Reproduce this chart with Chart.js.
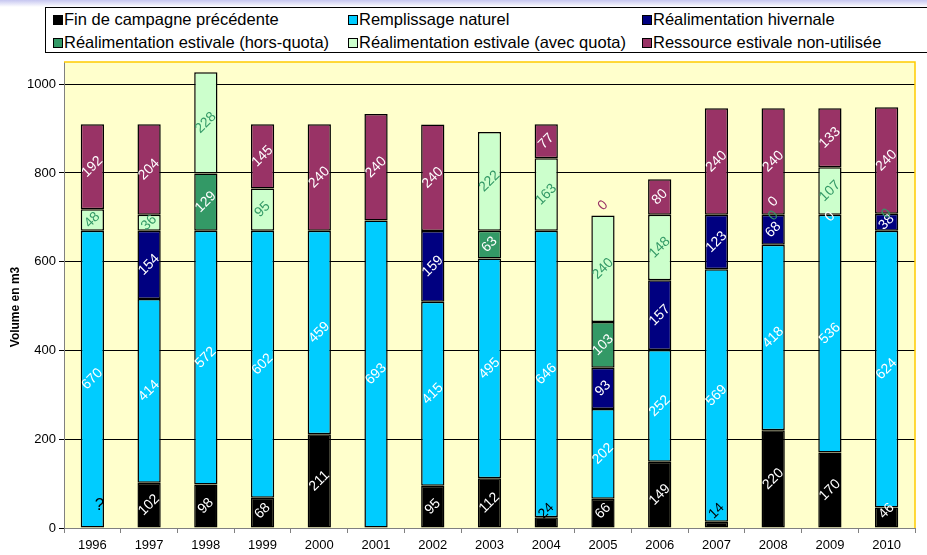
<!DOCTYPE html>
<html>
<head>
<meta charset="utf-8">
<script src="https://cdn.jsdelivr.net/npm/chart.js@4.4.1/dist/chart.umd.min.js"></script>
<style>
  html, body { margin:0; padding:0; background:#fff; }
  #wrap { position:relative; width:927px; height:555px; overflow:hidden; font-family:"Liberation Sans", Arial, sans-serif; }
  #stripe { position:absolute; left:0; top:0; width:927px; height:7px; background:linear-gradient(#c6c6f0, #ffffff); }
  #chart { position:absolute; left:0; top:0; }
  #legend { position:absolute; left:45px; top:7px; width:900px; height:44px; border:1px solid #000; background:#fff; }
  .li { position:absolute; font-size:16.5px; color:#000; white-space:nowrap; line-height:18px; }
  .li i { display:inline-block; width:8px; height:8px; border:1px solid #000; margin-right:1px; vertical-align:0px; }
</style>
</head>
<body>
<div id="wrap">
  <div id="stripe"></div>
  <canvas id="chart" width="927" height="555"></canvas>
  <div id="legend"></div>
</div>
<script>
const years = ['1996','1997','1998','1999','2000','2001','2002','2003','2004','2005','2006','2007','2008','2009','2010'];
const finCampagne = [0,102,98,68,211,0,95,112,24,66,149,14,220,170,46];
const remplissage = [670,414,572,602,459,693,415,495,646,202,252,569,418,536,624];
const realHiver   = [0,154,0,0,0,0,159,0,0,93,157,123,68,0,38];
const realEteHors = [0,0,129,0,0,0,0,63,0,103,0,0,0,0,0];
const realEteAvec = [48,36,228,95,0,0,0,222,163,240,148,0,0,107,0];
const ressource   = [192,204,0,145,240,240,240,0,77,0,80,240,240,133,240];
const yTicks = [0,200,400,600,800,1000];
const seriesNames = ['Fin de campagne précédente','Remplissage naturel','Réalimentation hivernale',
  'Réalimentation estivale (hors-quota)','Réalimentation estivale (avec quota)','Ressource estivale non-utilisée'];
const seriesColors = ['#000000','#00CCFF','#000080','#339966','#CCFFCC','#993366'];
const labelColors = ['#ffffff','#ffffff','#ffffff','#ffffff','#339966','#ffffff'];

// legend (HTML)
const legendPos = [[7,2],[302,2],[596,2],[7,25],[302,25],[596,25]];
const lg = document.getElementById('legend');
seriesNames.forEach((n,i)=>{
  const d = document.createElement('div');
  d.className='li';
  d.style.left = legendPos[i][0]+'px';
  d.style.top = legendPos[i][1]+'px';
  d.innerHTML = '<i style="background:'+seriesColors[i]+'"></i>'+n;
  lg.appendChild(d);
});

const allSeries = [finCampagne, remplissage, realHiver, realEteHors, realEteAvec, ressource];

const plotBg = {
  id:'plotBg',
  beforeDraw(chart){
    const {ctx, chartArea:a} = chart;
    ctx.save(); ctx.fillStyle='#FFFFCC'; ctx.fillRect(a.left,a.top,a.right-a.left,a.bottom-a.top); ctx.restore();
  },
  afterDraw(chart){
    const {ctx, chartArea:a} = chart;
    ctx.save();
    ctx.strokeStyle='#FFCC00'; ctx.lineWidth=1.5;
    ctx.beginPath(); ctx.moveTo(a.left,a.top); ctx.lineTo(a.right,a.top); ctx.lineTo(a.right,a.bottom); ctx.stroke();
    // y axis title
    ctx.fillStyle='#000'; ctx.font='bold 12px "Liberation Sans", Arial, sans-serif';
    ctx.translate(16, 307); ctx.rotate(-Math.PI/2);
    ctx.textAlign='center'; ctx.textBaseline='middle';
    ctx.fillText('Volume en m3',0,0);
    ctx.restore();
  }
};

const zeroLabels = [
  {s:5, i:9,  dy:-10, color:'#993366'},
  {s:3, i:12, dy:-13, color:'#ffffff'},
  {s:4, i:12, dy:1,   color:'#339966'},
  {s:3, i:13, dy:2,   color:'#ffffff'},
  {s:4, i:14, dy:0,   color:'#339966'}
];

const barLabels = {
  id:'barLabels',
  afterDatasetsDraw(chart){
    const {ctx, chartArea:a} = chart;
    ctx.save();
    ctx.font='14px "Liberation Sans", Arial, sans-serif';
    ctx.textAlign='center'; ctx.textBaseline='middle';
    const drawRot = (txt,x,y,color)=>{
      ctx.save(); ctx.translate(x,y); ctx.rotate(-Math.PI/4); ctx.fillStyle=color; ctx.fillText(txt,0,0); ctx.restore();
    };
    chart.data.datasets.forEach((ds,s)=>{
      const meta = chart.getDatasetMeta(s);
      meta.data.forEach((el,i)=>{
        const v = ds.data[i];
        if (!v) return;
        let y = (el.y + el.base)/2;
        if (y > a.bottom - 17) y = a.bottom - 17;
        let color = labelColors[s];
        if (s===0 && v < 30) color = '#000000';
        drawRot(String(v), el.x, y, color);
      });
    });
    zeroLabels.forEach(z=>{
      const el = chart.getDatasetMeta(z.s).data[z.i];
      drawRot('0', el.x, el.base + z.dy, z.color);
    });
    // unknown value for 1996
    const el0 = chart.getDatasetMeta(0).data[0];
    ctx.font='17px "Liberation Sans", Arial, sans-serif';
    ctx.fillStyle='#000';
    ctx.fillText('?', el0.x+7, a.bottom-23);
    ctx.restore();
  }
};

new Chart(document.getElementById('chart'), {
  type:'bar',
  data:{
    labels: years,
    datasets: allSeries.map((arr,s)=>({
      label: seriesNames[s],
      data: arr,
      backgroundColor: seriesColors[s],
      borderColor:'#000',
      borderWidth:1.5,
      borderSkipped:false,
      barPercentage:0.41,
      categoryPercentage:1.0
    }))
  },
  options:{
    responsive:false,
    animation:false,
    layout:{ padding:{ left:0, top:62, right:12, bottom:0 } },
    plugins:{ legend:{display:false}, tooltip:{enabled:false}, title:{display:false} },
    scales:{
      x:{
        stacked:true,
        grid:{ offset:true, drawOnChartArea:false, tickLength:5, color:'#808080' },
        border:{ color:'#808080' },
        ticks:{ color:'#000', font:{ family:'"Liberation Sans", Arial, sans-serif', size:13 }, padding:5, maxRotation:0, autoSkip:false },
        afterFit(s){ s.height = 27; }
      },
      y:{
        stacked:true,
        min:0, max:1050,
        grid:{ color:'#000', tickLength:5 },
        border:{ color:'#808080' },
        ticks:{ stepSize:200, color:'#000', font:{ family:'"Liberation Sans", Arial, sans-serif', size:13 }, padding:3,
                callback:(v)=>String(v) },
        afterBuildTicks(s){ s.ticks = yTicks.map(v=>({value:v})); },
        afterFit(s){ s.width = 64; }
      }
    }
  },
  plugins:[plotBg, barLabels]
});
</script>
</body>
</html>
